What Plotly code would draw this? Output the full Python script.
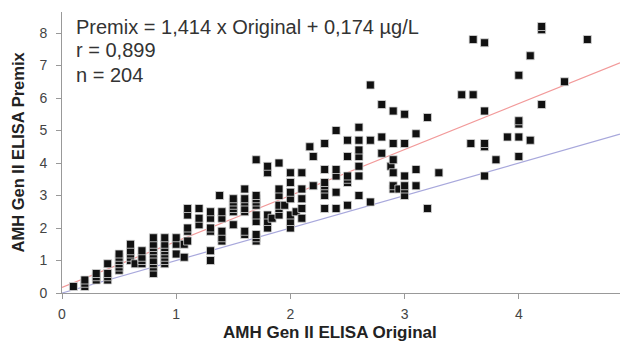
import plotly.graph_objects as go

# AMH Gen II ELISA Original (x) vs Premix (y), µg/L
original = (
    [0.1] + [0.2]*3 + [0.3]*3 + [0.4]*4 + [0.5]*6 + [0.6]*5 + [0.64] + [0.7]*4 +
    [0.8]*9 + [0.9]*8 + [1.0]*3 + [1.07]*2 + [1.1]*5 + [1.2]*3 + [1.3]*6 + [1.38] +
    [1.4]*5 + [1.5]*6 + [1.6]*7 + [1.7]*10 + [1.8]*5 + [1.84] + [1.9]*6 + [1.95] +
    [2.0]*7 + [2.05] + [2.1]*5 + [2.17] + [2.2]*2 + [2.3]*7 + [2.4]*5 + [2.5]*6 +
    [2.6]*7 + [2.7]*3 + [2.8]*3 + [2.88] + [2.9]*6 + [2.95] + [3.0]*6 + [3.1]*3 +
    [3.2]*2 + [3.3] + [3.5] + [3.58] + [3.6]*2 + [3.7]*5 + [3.8] + [3.9] +
    [4.0]*5 + [4.1]*2 + [4.2]*3 + [4.4] + [4.6]
)
premix = [
    0.2,
    0.2, 0.3, 0.4,
    0.4, 0.5, 0.6,
    0.4, 0.5, 0.6, 0.9,
    0.7, 0.8, 0.9, 1.0, 1.1, 1.2,
    1.0, 1.1, 1.2, 1.3, 1.5,
    0.9,
    0.9, 1.0, 1.1, 1.3,
    0.6, 0.8, 0.9, 1.0, 1.2, 1.3, 1.4, 1.5, 1.7,
    0.9, 1.0, 1.1, 1.2, 1.3, 1.4, 1.5, 1.7,
    1.2, 1.5, 1.7,
    1.1, 1.5,
    1.6, 1.9, 2.0, 2.4, 2.6,
    2.1, 2.3, 2.6,
    1.0, 1.3, 1.9, 2.0, 2.3, 2.5,
    3.0,
    1.6, 1.7, 1.9, 2.3, 2.5,
    2.1, 2.5, 2.6, 2.7, 2.8, 2.9,
    1.8, 1.9, 2.5, 2.6, 2.8, 2.9, 3.2,
    1.6, 1.7, 1.8, 2.2, 2.4, 2.7, 2.8, 2.9, 3.0, 4.1,
    2.0, 2.2, 2.4, 3.7, 3.9,
    2.3,
    2.4, 2.6, 2.7, 3.0, 3.2, 4.0,
    2.7,
    2.0, 2.2, 2.4, 2.9, 3.1, 3.4, 3.7,
    2.5,
    2.3, 2.6, 2.9, 3.2, 3.7,
    4.5,
    3.3, 4.2,
    2.6, 3.0, 3.2, 3.3, 3.4, 3.8, 4.6,
    2.6, 3.1, 3.6, 3.8, 5.0,
    2.7, 3.4, 3.5, 3.6, 4.2, 4.7,
    3.0, 3.6, 3.9, 4.2, 4.4, 4.7, 5.1,
    2.8, 4.7, 6.4,
    4.3, 4.8, 5.8,
    3.9,
    3.2, 3.3, 3.7, 4.1, 4.6, 5.6,
    3.2,
    3.0, 3.2, 3.3, 3.6, 4.6, 5.5,
    3.3, 3.8, 4.9,
    2.6, 5.4,
    3.7,
    6.1,
    4.6,
    6.1, 7.8,
    3.6, 4.5, 4.6, 5.6, 7.7,
    4.1,
    4.8,
    4.2, 4.8, 5.2, 5.3, 6.7,
    4.7, 7.3,
    5.8, 8.1, 8.2,
    6.5,
    7.8,
]

slope = 1.414
intercept = 0.174
x_max = 4.886
y_max = 8.646
x_ticks = [0, 1, 2, 3, 4]
y_ticks = [0, 1, 2, 3, 4, 5, 6, 7, 8]
annotation_lines = ["Premix = 1,414 x Original + 0,174 µg/L", "r = 0,899", "n = 204"]
x_title = "AMH Gen II ELISA Original"
y_title = "AMH Gen II ELISA Premix"

font_family = "Liberation Sans, Arial, sans-serif"

fig = go.Figure()
line_x = [0, x_max]
fig.add_trace(go.Scatter(
    x=line_x, y=[v for v in line_x], mode="lines",
    line=dict(color="#a8a8dc", width=1.2), hoverinfo="skip", showlegend=False))
fig.add_trace(go.Scatter(
    x=line_x, y=[slope * v + intercept for v in line_x], mode="lines",
    line=dict(color="#f29a9a", width=1.2), hoverinfo="skip", showlegend=False))
fig.add_trace(go.Scatter(
    x=original, y=premix, mode="markers",
    marker=dict(symbol="square", size=8, color="#111111",
                line=dict(color="#d8d8d8", width=0.8)),
    showlegend=False))

line_y = [0.946, 0.864, 0.777]
for txt, yy in zip(annotation_lines, line_y):
    fig.add_annotation(
        x=0.021, y=yy, xref="paper", yref="paper", text=txt,
        showarrow=False, xanchor="left", yanchor="middle",
        font=dict(family=font_family, size=20, color="#333333"))

fig.add_annotation(
    x=0.481, y=-0.142, xref="paper", yref="paper", text="<b>%s</b>" % x_title,
    showarrow=False, xanchor="center", yanchor="middle",
    font=dict(family=font_family, size=17, color="#222222"))
fig.add_annotation(
    x=-0.0797, y=0.502, xref="paper", yref="paper", text="<b>%s</b>" % y_title,
    showarrow=False, xanchor="center", yanchor="middle", textangle=-90,
    font=dict(family=font_family, size=16.5, color="#222222"))

axis_common = dict(
    showgrid=False, zeroline=False, showline=True, linecolor="#999999", linewidth=1,
    ticks="outside", ticklen=5, tickcolor="#999999", automargin=False,
    tickfont=dict(family=font_family, size=14, color="#444444"),
)
fig.update_xaxes(range=[0, x_max], tickvals=x_ticks, ticklabelstandoff=3, **axis_common)
fig.update_yaxes(range=[0, y_max], tickvals=y_ticks, ticklabelstandoff=6, **axis_common)
fig.update_layout(
    width=633, height=334,
    margin=dict(l=54, r=21, t=4, b=49),
    paper_bgcolor="white", plot_bgcolor="white",
)
fig.write_html("out.html")
